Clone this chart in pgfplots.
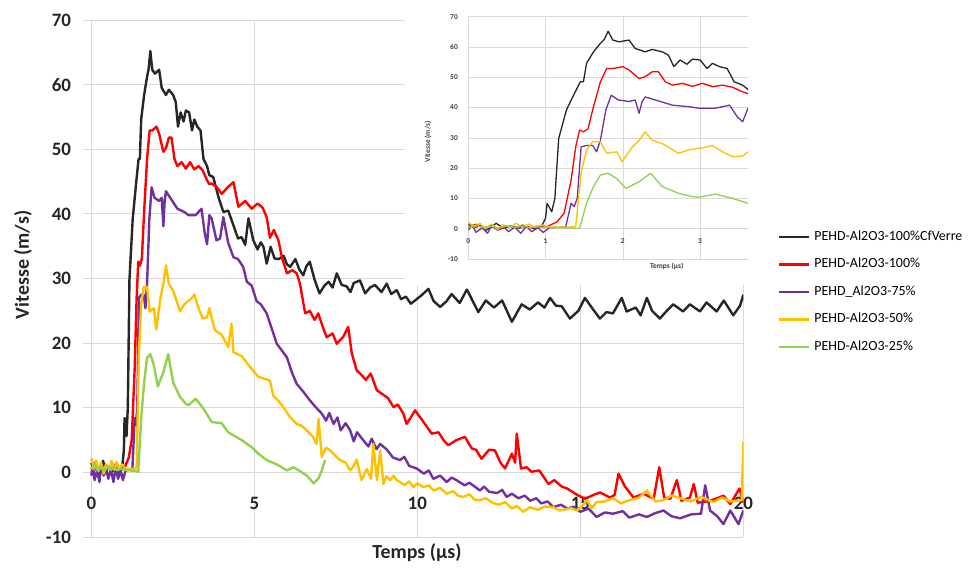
\documentclass[border=0pt]{standalone}
\usepackage{fontspec}
\setmainfont{Carlito}
\usepackage{pgfplots}
\pgfplotsset{compat=1.18}
\usepackage{pgfplotstable}

\definecolor{cblack}{HTML}{262626}
\definecolor{cred}{HTML}{FF0000}
\definecolor{cpurple}{HTML}{7030A0}
\definecolor{cyellow}{HTML}{FFC000}
\definecolor{cgreen}{HTML}{92D050}
\definecolor{cgrid}{HTML}{D9D9D9}

\pgfplotstableread{
x y
0 1.5
0.08 0.3
0.15 1.2
0.22 -0.6
0.3 0.5
0.36 1.8
0.45 0.2
0.55 0.9
0.65 0.2
0.75 0.7
0.85 0.1
0.95 0.9
1.0 3.5
1.02 8.4
1.08 5.6
1.12 10
1.17 29.8
1.27 39.2
1.38 45
1.45 48.5
1.49 48.5
1.53 54.6
1.62 58.4
1.71 61.2
1.76 62.5
1.81 65.2
1.87 62.3
1.95 61.7
2.08 62.3
2.16 59.5
2.29 58.4
2.38 59.2
2.51 58.4
2.59 57.3
2.66 53.5
2.74 55.7
2.83 54.3
2.90 56
3.0 55.7
3.09 52.9
3.16 54.6
3.25 53.5
3.35 52.9
3.44 48.5
3.55 47.4
3.62 46
3.74 45.7
3.9 42.6
4.05 40.3
4.2 40.5
4.41 37.5
4.5 36.2
4.61 36.4
4.72 35.2
4.82 39.3
4.97 35.9
5.1 34.5
5.2 35.6
5.28 34.9
5.38 32.3
5.5 34.9
5.62 33.1
5.75 33
5.9 33.5
6.0 32.2
6.1 31.8
6.26 33
6.38 31.4
6.5 30.5
6.6 31.9
6.7 32.6
6.85 29.8
7.0 27.7
7.15 28.9
7.28 29.5
7.4 28.6
7.53 30.8
7.68 29.0
7.83 28.8
7.95 27.9
8.05 29.3
8.24 29.7
8.4 27.7
8.55 28.6
8.7 29.0
8.9 27.9
9.06 29.2
9.2 27.6
9.37 28.2
9.5 26.8
9.65 27.2
9.8 26.1
9.93 26.6
10.15 27.5
10.34 28.4
10.5 26.5
10.7 25.6
10.9 26.5
11.05 27.6
11.3 26.2
11.52 28.3
11.7 26.5
11.87 24.8
12.1 26.6
12.35 25.5
12.6 26.6
12.9 23.3
13.2 26
13.45 25.2
13.7 26.3
13.9 25.5
14.07 27
14.25 25.8
14.43 25.7
14.68 23.8
14.94 25
15.14 27
15.35 25.5
15.6 23.8
15.8 24.8
16.0 24.6
16.27 27
16.42 24.9
16.7 25.5
16.85 24.3
17.04 27
17.2 25
17.44 23.8
17.65 25
17.85 26
18.15 24.9
18.36 26
18.67 24.9
18.87 26.3
19.18 24.9
19.4 26.6
19.69 24.3
19.9 25.8
20 27.5
}\tblack

\pgfplotstableread{
x y
0 0.5
0.1 1.5
0.2 0.2
0.3 1.0
0.4 -0.3
0.5 0.8
0.6 0.3
0.7 1.2
0.8 0.4
0.9 0.8
1.02 0.7
1.15 2.3
1.24 5.1
1.33 16
1.39 27
1.44 32.6
1.49 32
1.55 33
1.62 40.3
1.71 48.5
1.79 52.9
1.87 52.9
2.0 53.5
2.08 52.4
2.21 49.6
2.29 50.2
2.38 51.8
2.46 51.8
2.55 48.5
2.64 47.4
2.77 48
2.9 47
3.03 48
3.16 46.9
3.29 47.4
3.42 46.7
3.55 45.2
3.62 44.6
3.69 44.7
3.84 44.2
4.0 43.1
4.2 44.2
4.36 44.9
4.51 41.1
4.72 42
4.92 40.8
5.1 41.6
5.25 41
5.38 39.5
5.48 36.3
5.6 37.5
5.74 35.9
5.85 33.2
6.0 30.8
6.16 31.3
6.3 30.8
6.4 29.2
6.56 24.6
6.7 25
6.85 23.6
6.96 24.6
7.1 22.5
7.22 20.9
7.4 21.5
7.53 19.9
7.73 21
7.88 22.5
7.99 18.4
8.14 15.8
8.3 15
8.42 14.3
8.57 15.3
8.76 12.7
8.96 12
9.1 11.5
9.27 10.1
9.4 10.5
9.57 9.1
9.67 7.5
9.8 8.5
9.93 9.6
10.19 7.8
10.44 6
10.65 6.2
10.8 5
10.95 4.2
11.2 5
11.46 5.5
11.67 3.7
11.8 3.5
11.97 2.1
12.2 3.5
12.38 3.4
12.55 1.5
12.69 0.6
12.9 2.9
13.0 1.5
13.05 6
13.18 0.6
13.35 0.8
13.5 0.1
13.74 0.3
14.02 -1.8
14.2 -1.2
14.43 -2.2
14.6 -2.5
14.84 -3.3
15.14 -4.1
15.4 -3.5
15.6 -3.1
15.91 -3.9
16.05 -3.5
16.17 -0.2
16.37 -2.2
16.63 -3.9
16.94 -3.3
17.25 -4.1
17.42 0.8
17.57 -3.9
17.76 -4.1
17.96 -1.2
18.1 -4.4
18.36 -3.9
18.48 -1.8
18.6 -4.7
18.97 -4.4
19.2 -4.0
19.39 -3.6
19.6 -4.9
19.88 -2.5
20 -4.7
}\tred

\pgfplotstableread{
x y
0 -0.5
0.05 1.2
0.1 -1.2
0.18 0.3
0.25 -1.5
0.3 1.0
0.38 -0.5
0.45 0.8
0.52 -1.0
0.6 0.5
0.68 -1.5
0.75 0.8
0.82 -1.0
0.9 0.3
0.97 -1.2
1.05 0.3
1.15 0.4
1.26 0.5
1.33 8.4
1.37 7.3
1.41 10
1.46 27
1.53 27.5
1.61 27.5
1.66 25.4
1.71 29.2
1.78 39.2
1.85 44.1
1.94 42.5
2.08 42
2.16 42.5
2.21 38.1
2.25 42
2.29 43.5
2.42 42.5
2.64 40.8
2.85 40.3
2.98 39.8
3.2 39.8
3.38 40.8
3.48 37
3.55 35.3
3.62 39.8
3.69 39.3
3.84 35.9
3.95 36.2
4.05 39.5
4.2 35.5
4.36 33.3
4.5 33
4.66 31.8
4.77 29.5
4.92 28.9
5.07 26.5
5.2 26.0
5.38 24.6
5.55 22
5.69 19.9
6.0 17.8
6.15 15.5
6.3 13.7
6.5 12.5
6.71 11.1
6.9 10
7.07 9.1
7.2 8
7.3 9.2
7.43 7.5
7.55 8.5
7.65 6.5
7.8 7.6
7.94 6.5
8.05 4.8
8.15 6.2
8.34 5
8.5 4
8.6 5.2
8.75 3.6
8.86 4.4
9.07 3.5
9.25 2.3
9.47 1.9
9.6 2.4
9.75 1.0
9.98 0.6
10.2 -0.2
10.35 0.3
10.49 -1
10.7 -0.5
10.9 -1.5
11.05 -0.8
11.2 -1.2
11.45 -2
11.6 -1.6
11.92 -2.8
12.05 -2.2
12.2 -3
12.45 -3.2
12.6 -2.7
12.74 -3.8
12.9 -3.3
13.1 -4
13.3 -3.6
13.46 -4.4
13.65 -4.0
13.8 -4.8
14.0 -4.5
14.17 -5.4
14.4 -5.0
14.6 -5.6
14.8 -5.3
15.0 -6.1
15.25 -5.6
15.5 -6.9
15.75 -6.2
16.0 -6.4
16.3 -6.0
16.5 -7.0
16.8 -6.5
17.04 -6.9
17.3 -6.3
17.55 -5.9
17.8 -6.8
18.06 -7.1
18.4 -6.5
18.7 -6.4
18.83 -2.0
18.98 -5.9
19.2 -6.8
19.39 -8.0
19.6 -5.9
19.85 -8.0
20 -5.9
}\tpurple

\pgfplotstableread{
x y
0 2.2
0.08 0.5
0.15 1.8
0.22 0.2
0.3 1.5
0.38 -0.2
0.45 1.3
0.55 0.5
0.62 1.8
0.7 0.4
0.78 1.6
0.85 0.6
0.95 1.2
1.05 0.5
1.2 0.6
1.3 0.5
1.39 0.7
1.46 18.3
1.53 26
1.61 28.7
1.71 28.7
1.79 24.9
1.92 25.4
1.99 22.1
2.12 26.9
2.21 29.2
2.29 32
2.38 29.2
2.51 28.1
2.62 26.5
2.72 24.9
2.85 26
3.07 26.9
3.16 27.5
3.29 25.4
3.42 23.8
3.55 24
3.62 25.4
3.79 22
4.0 21.3
4.2 19.4
4.3 23
4.36 18.6
4.61 18
4.87 16.3
5.12 14.8
5.3 14.5
5.48 14.2
5.58 11.9
5.75 11
5.89 10.1
6.09 8.6
6.3 7.5
6.45 7.2
6.61 6.5
6.8 5.5
6.91 4.4
6.97 8.3
7.07 2.4
7.2 3.8
7.33 3.4
7.5 2.5
7.63 1.9
7.8 1.5
7.94 0.3
8.05 1.0
8.14 2
8.29 -1.2
8.45 0.5
8.58 -1.0
8.65 4.4
8.76 -1.2
8.86 3.4
8.96 -1.8
9.05 -0.6
9.17 -1.2
9.27 -0.5
9.37 -1.2
9.5 -1.6
9.6 -2.0
9.75 -1.4
9.88 -2.3
10.0 -1.7
10.19 -2.3
10.35 -2.0
10.5 -2.8
10.7 -2.4
10.9 -3.3
11.1 -2.9
11.25 -3.6
11.4 -3.8
11.6 -3.4
11.75 -4.2
11.92 -4.3
12.1 -4.0
12.3 -4.7
12.5 -5.0
12.7 -4.6
12.9 -5.6
13.05 -5.2
13.25 -6.1
13.45 -5.4
13.7 -5.8
13.9 -5.3
14.17 -5.4
14.35 -5.9
14.5 -5.8
14.7 -5.5
14.89 -5.9
15.05 -5.2
15.2 -4.3
15.35 -5.5
15.5 -4.6
15.75 -4.5
16.0 -4
16.25 -4.8
16.5 -4.3
16.8 -3.9
17.04 -2.8
17.3 -4.5
17.55 -4.3
17.8 -3.6
18.06 -4
18.4 -4.5
18.7 -3.8
19.07 -4.6
19.35 -3.9
19.6 -4.5
19.95 -4.3
20 4.7
}\tyellow

\pgfplotstableread{
x y
0 0.5
0.1 1.2
0.2 0.3
0.3 0.8
0.4 0.2
0.5 1.0
0.6 0.4
0.7 0.9
0.8 0.3
0.9 0.6
1.0 0.4
1.2 0.3
1.35 0.2
1.44 0.1
1.53 8.4
1.62 13.9
1.71 17.7
1.81 18.3
1.92 16.6
2.04 13.3
2.21 15.5
2.36 18.3
2.51 13.9
2.72 11.7
2.9 10.6
2.98 10.4
3.2 11.4
3.42 10
3.62 8.4
3.69 7.8
4.0 7.6
4.2 6.2
4.61 5
4.92 3.9
5.12 2.9
5.38 1.9
5.7 1.2
6.0 0.3
6.2 0.8
6.4 0.2
6.61 -0.5
6.82 -1.7
6.97 -0.9
7.07 0.3
7.17 1.9
}\tgreen

\begin{document}
\begin{tikzpicture}
\path[use as bounding box] (0bp,0bp) rectangle (973bp,569bp);
\begin{axis}[
  at={(83.15bp,32bp)}, anchor=south west,
  scale only axis, width=660.2bp, height=517bp,
  xmin=-0.25, xmax=20, ymin=-10, ymax=70,
  xtick={0,5,10,15,20}, ytick={-10,0,10,20,30,40,50,60,70},
  grid=major, major grid style={draw=cgrid, line width=0.9bp},
  axis line style={draw=none}, tick style={draw=none},
  /pgf/number format/assume math mode=true,
  tick label style={font=\bfseries\fontsize{19}{19}\selectfont, text=black!85},
  xticklabel style={anchor=center, yshift=33.5bp, inner sep=0pt},
  yticklabel style={anchor=east, inner sep=0pt, xshift=-12bp},
  every axis plot/.append style={line width=2.4bp, line join=round},
  legend style={at={(1.0525,0.474)}, anchor=west, draw=none, fill=none,
    inner sep=0pt, row sep=14.5bp, column sep=4bp,
    font=\fontsize{14}{16}\selectfont,
    nodes={inner sep=0pt, text height=10bp, text depth=3bp}},
  legend cell align=left,
  legend image code/.code={\draw[#1, line width=2.2bp] (0bp,0bp) -- (30bp,0bp);},
]
\addplot[cblack] table {\tblack};
\addlegendentry{PEHD-Al2O3-100\%CfVerre}
\addplot[cred] table {\tred};
\addlegendentry{PEHD-Al2O3-100\%}
\addplot[cpurple] table {\tpurple};
\addlegendentry{PEHD\_Al2O3-75\%}
\addplot[cyellow] table {\tyellow};
\addlegendentry{PEHD-Al2O3-50\%}
\addplot[cgreen] table {\tgreen};
\addlegendentry{PEHD-Al2O3-25\%}
\end{axis}
\node[font=\bfseries\fontsize{20}{20}\selectfont, text=black!85] at (417bp,16bp) {Temps (µs)};
\node[font=\bfseries\fontsize{20}{20}\selectfont, text=black!85, rotate=90] at (23bp,304bp) {Vitesse (m/s)};
\fill[white] (405bp,284bp) rectangle (760bp,569bp);
\begin{axis}[
  at={(468.3bp,310bp)}, anchor=south west,
  scale only axis, width=279.7bp, height=242.3bp,
  xmin=0, xmax=3.62, ymin=-10, ymax=70,
  xtick={0,1,2,3}, ytick={-10,0,10,20,30,40,50,60,70},
  grid=major, major grid style={draw=cgrid, line width=0.6bp},
  axis line style={draw=none}, tick style={draw=none},
  /pgf/number format/assume math mode=true,
  tick label style={font=\bfseries\fontsize{7.5}{7.5}\selectfont, text=black!75},
  xticklabel style={anchor=center, yshift=18.3bp, inner sep=0pt},
  yticklabel style={anchor=east, inner sep=0pt, xshift=-10.3bp},
  every axis plot/.append style={line width=1.3bp, line join=round},
]
\addplot[cblack] table {\tblack};
\addplot[cred] table {\tred};
\addplot[cpurple] table {\tpurple};
\addplot[cyellow] table {\tyellow};
\addplot[cgreen] table {\tgreen};
\end{axis}
\node[font=\bfseries\fontsize{7.5}{7.5}\selectfont, text=black!75] at (666.7bp,302.3bp) {Temps (µs)};
\node[font=\bfseries\fontsize{7.5}{7.5}\selectfont, text=black!75, rotate=90] at (428bp,427bp) {Vitesse (m/s)};
\end{tikzpicture}
\end{document}
